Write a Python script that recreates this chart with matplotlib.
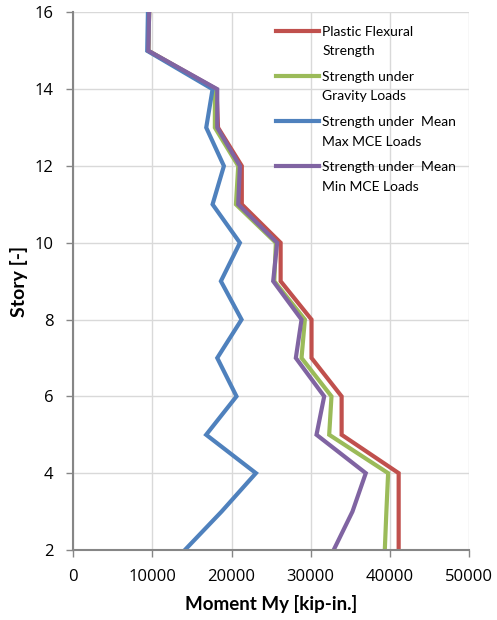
import numpy as np
import matplotlib.pyplot as plt
from matplotlib.legend_handler import HandlerLine2D

plt.rcParams['font.family'] = ['Lato', 'DejaVu Sans']

# story levels
stories = [2, 3, 4, 5, 6, 7, 8, 9, 10, 11, 12, 13, 14, 15, 16]

# moments [kip-in.]
plastic = [41100, 41100, 41100, 33900, 33900, 30100, 30100, 26200, 26200,
           21300, 21300, 18300, 18100, 9500, 9600]
gravity = [39350, 39550, 39770, 32330, 32620, 28840, 29260, 25400, 25600,
           20560, 20850, 17900, 17900, 9500, 9600]
max_mce = [14120, 18750, 23080, 16800, 20630, 18200, 21270, 18660, 21060,
           17610, 19040, 16810, 17610, 9360, 9450]
min_mce = [32900, 35270, 36950, 30730, 31700, 28120, 28840, 25260, 25760,
           20850, 21060, 18200, 18200, 9500, 9600]

labels = ['Plastic Flexural\nStrength', 'Strength under\nGravity Loads',
          'Strength under  Mean\nMax MCE Loads', 'Strength under  Mean\nMin MCE Loads']
colors = ['#C0504D', '#9BBB59', '#4F81BD', '#8064A2']


# legend line sits next to the first text line, like Excel does
class TopLineHandler(HandlerLine2D):
    def create_artists(self, legend, orig_handle, xdescent, ydescent,
                       width, height, fontsize, trans):
        arts = super().create_artists(legend, orig_handle, xdescent, ydescent,
                                      width, height, fontsize, trans)
        for a in arts:
            a.set_ydata(np.asarray(a.get_ydata()) + 0.8 * fontsize)
        return arts


fig = plt.figure(figsize=(4.97, 6.2), dpi=100)
ax = fig.add_axes([0.147, 0.113, 0.797, 0.867])

handles = []
for vals, lab, c in zip([plastic, gravity, max_mce, min_mce], labels, colors):
    h, = ax.plot(vals, stories, color=c, lw=3, label=lab, solid_joinstyle='miter')
    handles.append(h)

ax.set_xlim(0, 50000)
ax.set_ylim(2, 16)
ax.set_xticks(range(0, 50001, 10000))
ax.set_yticks(range(2, 17, 2))
ax.grid(True, color='#d9d9d9', lw=1)
ax.set_axisbelow(True)
for s in ['top', 'right']:
    ax.spines[s].set_visible(False)
for s in ['left', 'bottom']:
    ax.spines[s].set_color('#868686')
    ax.spines[s].set_linewidth(1.5)
ax.tick_params(colors='#868686', labelcolor='black', length=5, width=1)
ax.tick_params(axis='x', pad=9)
ax.tick_params(axis='y', pad=9)
for t in ax.get_xticklabels() + ax.get_yticklabels():
    t.set_fontfamily(['Open Sans', 'DejaVu Sans'])
    t.set_fontsize(12)

ax.set_xlabel('Moment My [kip-in.]', fontsize=13.5, fontweight='bold', labelpad=7)
ax.set_ylabel('Story [-]', fontsize=14, fontweight='bold', labelpad=5)

leg = ax.legend(handles=handles, loc='upper left', bbox_to_anchor=(0.513, 0.975),
                frameon=False, fontsize=10, borderpad=0, borderaxespad=0,
                handlelength=3.1, handletextpad=0.2, labelspacing=0.98,
                handler_map={plt.Line2D: TopLineHandler()})
for t in leg.get_texts():
    t.set_linespacing(1.75)

fig.savefig('out.png', dpi=100)
